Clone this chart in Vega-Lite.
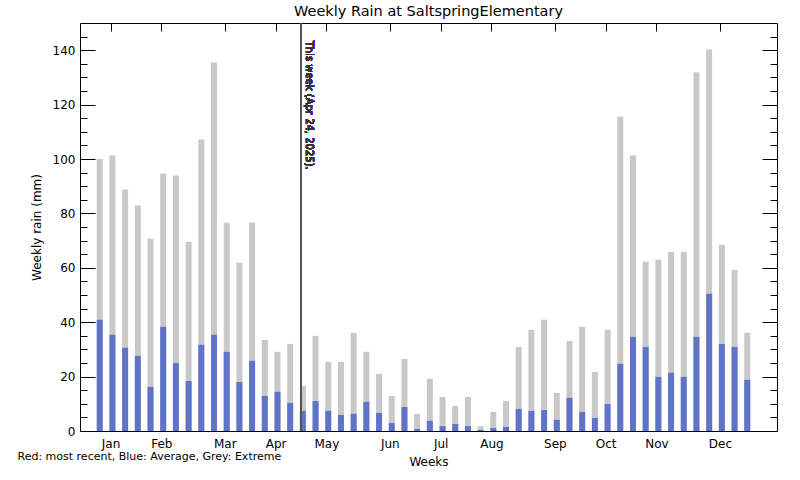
{
  "$schema": "https://vega.github.io/schema/vega-lite/v6.json",
  "autosize": {"type": "none"},
  "width": 697,
  "height": 408,
  "padding": {"left": 80, "top": 23, "right": 23, "bottom": 49},
  "background": "white",
  "title": {"text": "Weekly Rain at SaltspringElementary", "font": "DejaVu Sans", "fontSize": 14.5, "fontWeight": "normal", "color": "black", "frame": "group", "anchor": "middle", "offset": 3},
  "config": {
    "view": {"stroke": "black", "strokeWidth": 1},
    "axis": {"labelFont": "DejaVu Sans", "labelFontSize": 12, "labelColor": "black", "titleFont": "DejaVu Sans", "titleFontSize": 12, "titleFontWeight": "normal", "titleColor": "black", "tickColor": "black", "tickWidth": 1, "grid": false, "domain": false}
  },
  "data": {"values": [
    {"week": 1, "extreme": 100.0, "average": 40.9},
    {"week": 2, "extreme": 101.3, "average": 35.4},
    {"week": 3, "extreme": 88.8, "average": 30.6},
    {"week": 4, "extreme": 82.9, "average": 27.6},
    {"week": 5, "extreme": 70.7, "average": 16.2},
    {"week": 6, "extreme": 94.7, "average": 38.3},
    {"week": 7, "extreme": 93.9, "average": 25.0},
    {"week": 8, "extreme": 69.6, "average": 18.4},
    {"week": 9, "extreme": 107.2, "average": 31.7},
    {"week": 10, "extreme": 135.5, "average": 35.4},
    {"week": 11, "extreme": 76.6, "average": 29.1},
    {"week": 12, "extreme": 61.9, "average": 18.0},
    {"week": 13, "extreme": 76.6, "average": 25.8},
    {"week": 14, "extreme": 33.5, "average": 12.9},
    {"week": 15, "extreme": 29.1, "average": 14.4},
    {"week": 16, "extreme": 32.0, "average": 10.3},
    {"week": 17, "extreme": 16.6, "average": 7.4},
    {"week": 18, "extreme": 35.0, "average": 11.0},
    {"week": 19, "extreme": 25.4, "average": 7.4},
    {"week": 20, "extreme": 25.4, "average": 5.9},
    {"week": 21, "extreme": 36.1, "average": 6.3},
    {"week": 22, "extreme": 29.1, "average": 10.7},
    {"week": 23, "extreme": 21.0, "average": 6.6},
    {"week": 24, "extreme": 12.9, "average": 2.9},
    {"week": 25, "extreme": 26.5, "average": 8.8},
    {"week": 26, "extreme": 6.3, "average": 0.7},
    {"week": 27, "extreme": 19.2, "average": 3.7},
    {"week": 28, "extreme": 12.5, "average": 1.8},
    {"week": 29, "extreme": 9.2, "average": 2.6},
    {"week": 30, "extreme": 12.5, "average": 1.8},
    {"week": 31, "extreme": 1.8, "average": 0.4},
    {"week": 32, "extreme": 7.0, "average": 1.1},
    {"week": 33, "extreme": 11.0, "average": 1.5},
    {"week": 34, "extreme": 30.9, "average": 8.1},
    {"week": 35, "extreme": 37.2, "average": 7.4},
    {"week": 36, "extreme": 40.9, "average": 7.7},
    {"week": 37, "extreme": 14.0, "average": 4.1},
    {"week": 38, "extreme": 33.1, "average": 12.2},
    {"week": 39, "extreme": 38.3, "average": 7.0},
    {"week": 40, "extreme": 21.7, "average": 4.8},
    {"week": 41, "extreme": 37.2, "average": 9.9},
    {"week": 42, "extreme": 115.6, "average": 24.7},
    {"week": 43, "extreme": 101.3, "average": 34.6},
    {"week": 44, "extreme": 62.2, "average": 30.9},
    {"week": 45, "extreme": 63.0, "average": 19.9},
    {"week": 46, "extreme": 65.9, "average": 21.4},
    {"week": 47, "extreme": 65.9, "average": 19.9},
    {"week": 48, "extreme": 131.9, "average": 34.6},
    {"week": 49, "extreme": 140.3, "average": 50.5},
    {"week": 50, "extreme": 68.5, "average": 32.0},
    {"week": 51, "extreme": 59.3, "average": 30.9},
    {"week": 52, "extreme": 36.1, "average": 18.8}
  ]},
  "resolve": {"axis": {"x": "independent", "y": "independent"}},
  "layer": [
    {
      "mark": {"type": "bar", "orient": "vertical", "size": 6, "color": "#c8c8c8"},
      "encoding": {
        "x": {"field": "week", "type": "quantitative",
          "scale": {"domain": [-0.16, 53.95], "nice": false, "zero": false},
          "axis": {"orient": "bottom", "values": [1.85, 5.85, 10.85, 14.85, 18.85, 23.85, 27.85, 31.85, 36.85, 40.85, 44.85, 49.85],
            "ticks": false, "labelPadding": 7, "labelBaseline": "top",
            "labelExpr": "datum.value < 3 ? 'Jan' : datum.value < 7 ? 'Feb' : datum.value < 12 ? 'Mar' : datum.value < 16 ? 'Apr' : datum.value < 20 ? 'May' : datum.value < 25 ? 'Jun' : datum.value < 29 ? 'Jul' : datum.value < 33 ? 'Aug' : datum.value < 38 ? 'Sep' : datum.value < 42 ? 'Oct' : datum.value < 46 ? 'Nov' : 'Dec'",
            "title": "Weeks", "titleBaseline": "alphabetic", "titleY": 34}},
        "y": {"field": "extreme", "type": "quantitative",
          "scale": {"domain": [0, 150], "nice": false},
          "axis": {"orient": "left", "values": [0, 20, 40, 60, 80, 100, 120, 140], "ticks": false, "labelPadding": 5,
            "title": "Weekly rain (mm)", "titlePadding": 9}}
      }
    },
    {
      "mark": {"type": "bar", "orient": "vertical", "size": 6, "color": "#5f74c8"},
      "encoding": {
        "x": {"field": "week", "type": "quantitative",
          "axis": {"orient": "bottom", "values": [1.85, 5.85, 10.85, 14.85, 18.85, 23.85, 27.85, 31.85, 36.85, 40.85, 44.85, 49.85],
            "labels": false, "tickSize": -8,
            "title": "Red: most recent, Blue: Average, Grey: Extreme", "titleFontSize": 11, "titleX": -63, "titleY": 28, "titleAlign": "left", "titleBaseline": "alphabetic"}},
        "y": {"field": "average", "type": "quantitative",
          "axis": {"orient": "left", "values": [0, 5, 10, 15, 20, 25, 30, 35, 40, 45, 50, 55, 60, 65, 70, 75, 80, 85, 90, 95, 100, 105, 110, 115, 120, 125, 130, 135, 140, 145],
            "labels": false, "title": null,
            "tickSize": {"condition": {"test": "datum.value % 20 === 0", "value": -15}, "value": -7}}}
      }
    },
    {
      "mark": {"type": "rule", "color": "#555555", "strokeWidth": 1},
      "encoding": {
        "x": {"datum": 16.86, "type": "quantitative",
          "axis": {"orient": "top", "values": [1.85, 5.85, 10.85, 14.85, 18.85, 23.85, 27.85, 31.85, 36.85, 40.85, 44.85, 49.85],
            "labels": false, "tickSize": -8, "title": null}},
        "y": {"datum": 0, "type": "quantitative",
          "axis": {"orient": "right", "values": [0, 5, 10, 15, 20, 25, 30, 35, 40, 45, 50, 55, 60, 65, 70, 75, 80, 85, 90, 95, 100, 105, 110, 115, 120, 125, 130, 135, 140, 145],
            "labels": false, "title": null,
            "tickSize": {"condition": {"test": "datum.value % 20 === 0", "value": -15}, "value": -7}}},
        "y2": {"datum": 150}
      }
    },
    {
      "mark": {"type": "text", "text": "This week (Apr 24, 2025).", "angle": 90, "align": "left", "baseline": "bottom", "font": "DejaVu Sans", "fontSize": 10, "color": "#333333"},
      "encoding": {
        "x": {"datum": 17.12, "type": "quantitative", "axis": null},
        "y": {"datum": 143.5, "type": "quantitative", "axis": null}
      }
    }
  ]
}
